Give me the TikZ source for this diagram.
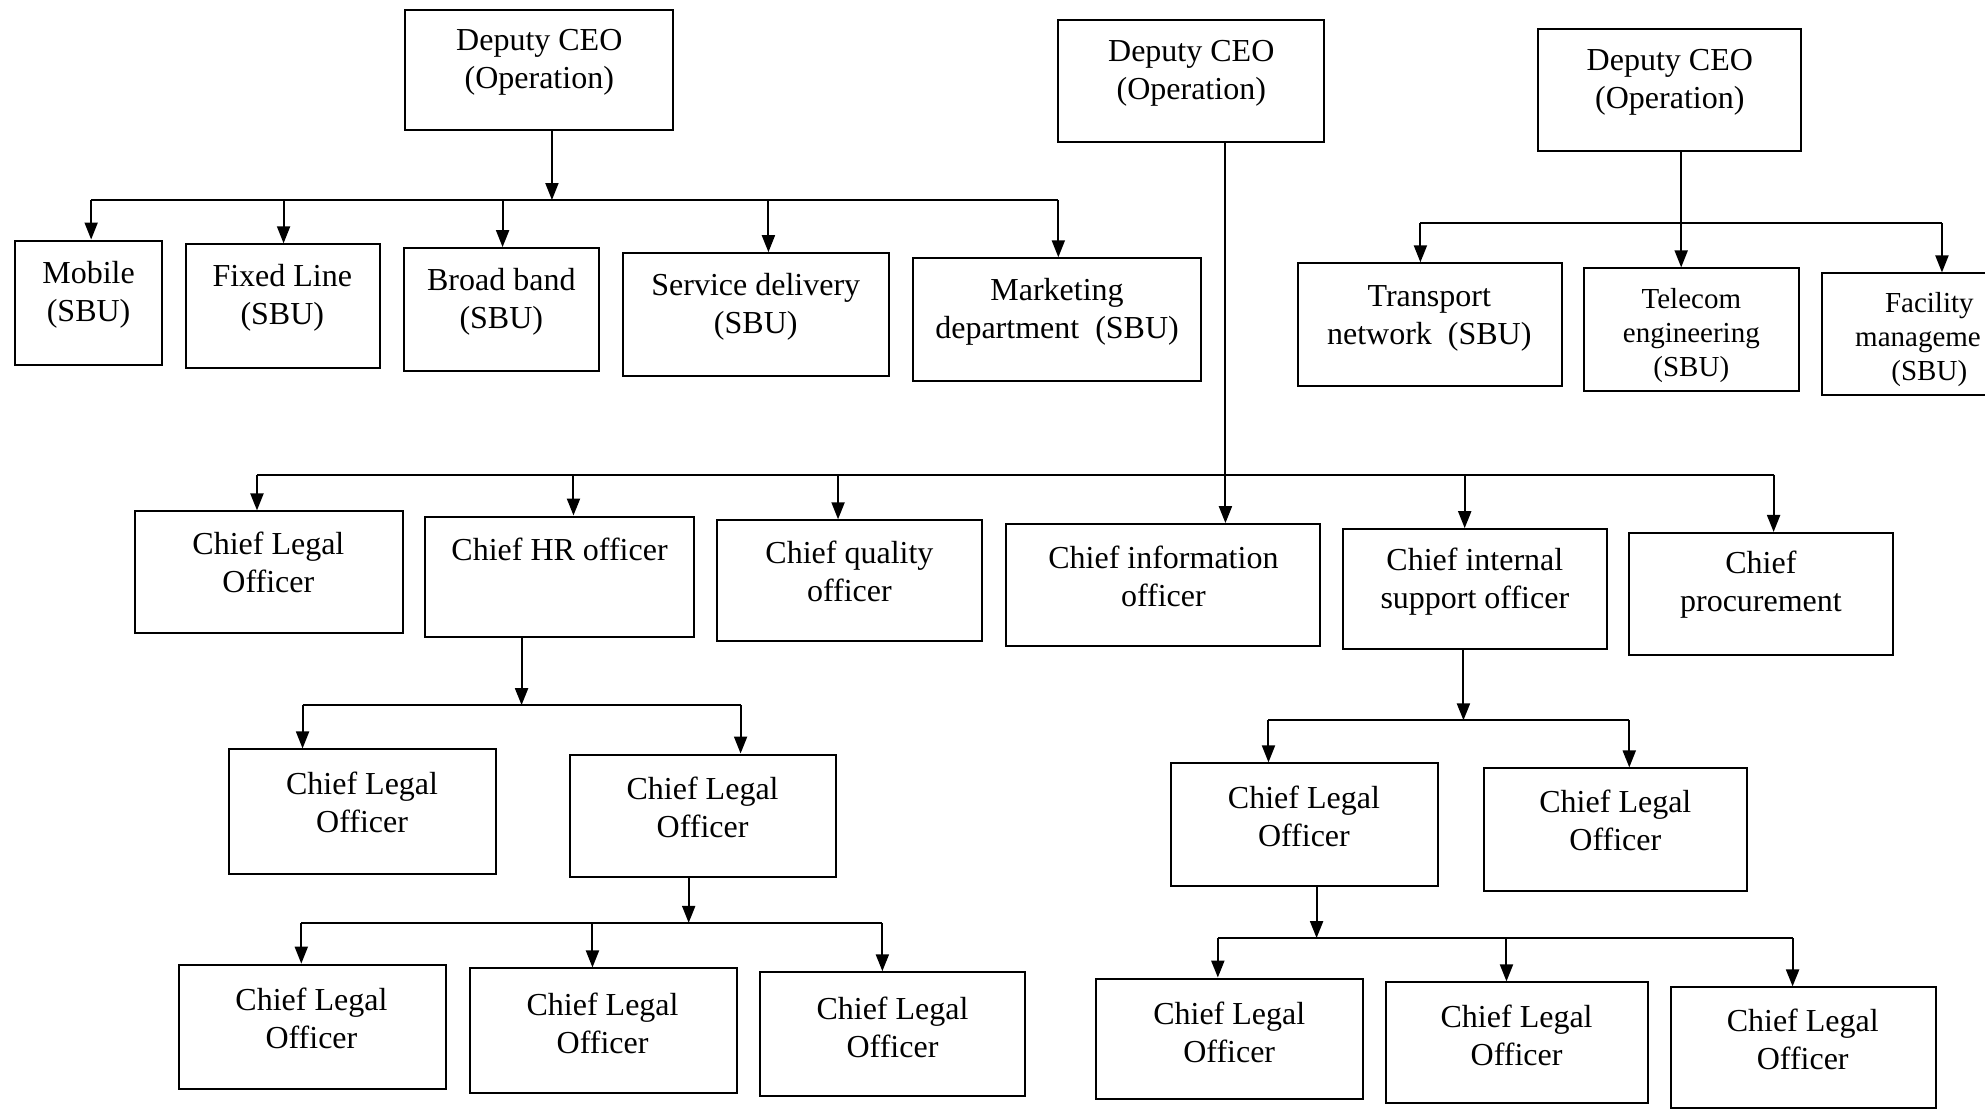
\documentclass[tikz,border=0pt]{standalone}
\usepackage{fontspec}
\setmainfont{Liberation Serif}
\usetikzlibrary{arrows.meta,calc}
\tikzset{
  obox/.style={draw, line width=2pt, inner sep=0pt, rectangle},
  otext/.style={align=center, inner sep=0pt, yshift=-4pt, font=\fontsize{32}{38}\selectfont},
  otextsm/.style={align=center, inner sep=0pt, yshift=-4pt, font=\fontsize{29}{34}\selectfont},
  conn/.style={line width=2pt},
  arr/.style={conn, -{Triangle[length=17pt,width=13pt]}},
}
% \orgbox{name}{left}{top}{right}{bottom}
\newcommand\orgbox[5]{%
  \node[obox, minimum width={(#4-#2)*1.266pt}, minimum height={(#5-#3)*1.266pt}]
    (#1) at ({(#2+#4)/2},{(#3+#5)/2}) {};}
\begin{document}
\begin{tikzpicture}[x=1.266pt, y=-1.266pt]
\path[use as bounding box, fill=white] (0,0) rectangle (1568,878);
\clip (0,0) rectangle (1568,878);

% ---- Deputy CEOs ----
\orgbox{A1}{320}{8}{532}{103}
\node[otext] (A1t) at (426,46) {Deputy CEO\\(Operation)};
\orgbox{A2}{836}{16}{1046}{112}
\node[otext] (A2t) at (941,55) {Deputy CEO\\(Operation)};
\orgbox{A3}{1215}{23}{1423}{119}
\node[otext] (A3t) at (1319,62) {Deputy CEO\\(Operation)};

% ---- SBUs under the first deputy ----
\orgbox{B1}{12}{190}{128}{288}
\node[otext] (B1t) at (70,230) {Mobile\\(SBU)};
\orgbox{B2}{147}{193}{300}{291}
\node[otext] (B2t) at (223,232) {Fixed Line\\(SBU)};
\orgbox{B3}{319}{196}{473}{293}
\node[otext] (B3t) at (396,235) {Broad band\\(SBU)};
\orgbox{B4}{492}{200}{702}{297}
\node[otext] (B4t) at (597,239) {Service delivery\\(SBU)};
\orgbox{B5}{721}{204}{949}{301}
\node[otext] (B5t) at (835,243) {Marketing\\department\ \ (SBU)};

% ---- SBUs under the third deputy ----
\orgbox{C1}{1025}{208}{1234}{305}
\node[otext] (C1t) at (1129,248) {Transport\\network\ \ (SBU)};
\orgbox{C2}{1251}{212}{1421}{309}
\node[otextsm] (C2t) at (1336,262) {Telecom\\engineering\\(SBU)};
\orgbox{C3}{1439}{216}{1609}{312}
\node[otextsm] (C3t) at (1524,265) {Facility\\manageme\phantom{nt}\\(SBU)};

% ---- Chief officers ----
\orgbox{D1}{107}{404}{318}{500}
\node[otext] (D1t) at (212,441) {Chief Legal\\Officer};
\orgbox{D2}{336}{408}{548}{503}
\node[otext] (D2t) at (442,431) {Chief HR officer};
\orgbox{D3}{566}{411}{776}{506}
\node[otext] (D3t) at (671,448) {Chief quality\\officer};
\orgbox{D4}{795}{414}{1043}{510}
\node[otext] (D4t) at (919,452) {Chief information\\officer};
\orgbox{D5}{1061}{418}{1269}{513}
\node[otext] (D5t) at (1165,456) {Chief internal\\support officer};
\orgbox{D6}{1287}{421}{1495}{517}
\node[otext] (D6t) at (1391,459) {Chief\\procurement};

% ---- Second level ----
\orgbox{E1}{181}{592}{392}{690}
\node[otext] (E1t) at (286,631) {Chief Legal\\Officer};
\orgbox{E2}{450}{596}{660}{693}
\node[otext] (E2t) at (555,635) {Chief Legal\\Officer};
\orgbox{F1}{925}{603}{1136}{700}
\node[otext] (F1t) at (1030,642) {Chief Legal\\Officer};
\orgbox{F2}{1172}{607}{1380}{704}
\node[otext] (F2t) at (1276,645) {Chief Legal\\Officer};

% ---- Third level ----
\orgbox{G1}{141}{762}{352}{860}
\node[otext] (G1t) at (246,801) {Chief Legal\\Officer};
\orgbox{G2}{371}{765}{582}{863}
\node[otext] (G2t) at (476,805) {Chief Legal\\Officer};
\orgbox{G3}{600}{768}{810}{866}
\node[otext] (G3t) at (705,808) {Chief Legal\\Officer};
\orgbox{H1}{866}{773}{1077}{868}
\node[otext] (H1t) at (971,812) {Chief Legal\\Officer};
\orgbox{H2}{1095}{776}{1302}{871}
\node[otext] (H2t) at (1198,815) {Chief Legal\\Officer};
\orgbox{H3}{1320}{780}{1529}{875}
\node[otext] (H3t) at (1424,818) {Chief Legal\\Officer};

% ---- Connectors: first deputy to SBUs ----
\coordinate (busA) at (436,158);
\coordinate (jB1) at (72,158);
\coordinate (jB2) at (224,158);
\coordinate (jB3) at (397,158);
\coordinate (jB4) at (607,158);
\coordinate (jB5) at (836,158);
\draw[arr] (A1.south -| busA) -- (busA);
\draw[conn] (jB1) -- (jB5);
\foreach \k in {1,...,5} \draw[arr] (jB\k) -- (jB\k |- B\k.north);

% ---- third deputy to SBUs ----
\coordinate (jC1) at (1122,176);
\coordinate (jC2) at (1328,176);
\coordinate (jC3) at (1534,176);
\draw[conn] (jC1) -- (jC3);
\draw[arr] (A3.south -| jC2) -- (jC2 |- C2.north);
\draw[arr] (jC1) -- (jC1 |- C1.north);
\draw[arr] (jC3) -- (jC3 |- C3.north);

% ---- second deputy to chief officers ----
\coordinate (jD1) at (203,375);
\coordinate (jD2) at (453,375);
\coordinate (jD3) at (662,375);
\coordinate (jD4) at (968,375);
\coordinate (jD5) at (1157,375);
\coordinate (jD6) at (1401,375);
\draw[conn] (jD1) -- (jD6);
\draw[arr] (A2.south -| jD4) -- (jD4 |- D4.north);
\foreach \k in {1,2,3,5,6} \draw[arr] (jD\k) -- (jD\k |- D\k.north);

% ---- HR officer branch ----
\coordinate (busE) at (412,557);
\coordinate (jE1) at (239,557);
\coordinate (jE2) at (585,557);
\draw[arr] (D2.south -| busE) -- (busE);
\draw[conn] (jE1) -- (jE2);
\draw[arr] (jE1) -- (jE1 |- E1.north);
\draw[arr] (jE2) -- (jE2 |- E2.north);

\coordinate (busG) at (544,729);
\coordinate (jG1) at (238,729);
\coordinate (jG2) at (468,729);
\coordinate (jG3) at (697,729);
\draw[arr] (E2.south -| busG) -- (busG);
\draw[conn] (jG1) -- (jG3);
\foreach \k in {1,2,3} \draw[arr] (jG\k) -- (jG\k |- G\k.north);

% ---- internal support officer branch ----
\coordinate (busF) at (1156,569);
\coordinate (jF1) at (1002,569);
\coordinate (jF2) at (1287,569);
\draw[arr] (D5.south -| busF) -- (busF);
\draw[conn] (jF1) -- (jF2);
\draw[arr] (jF1) -- (jF1 |- F1.north);
\draw[arr] (jF2) -- (jF2 |- F2.north);

\coordinate (busH) at (1040,741);
\coordinate (jH1) at (962,741);
\coordinate (jH2) at (1190,741);
\coordinate (jH3) at (1416,741);
\draw[arr] (F1.south -| busH) -- (busH);
\draw[conn] (jH1) -- (jH3);
\foreach \k in {1,2,3} \draw[arr] (jH\k) -- (jH\k |- H\k.north);
\end{tikzpicture}
\end{document}
